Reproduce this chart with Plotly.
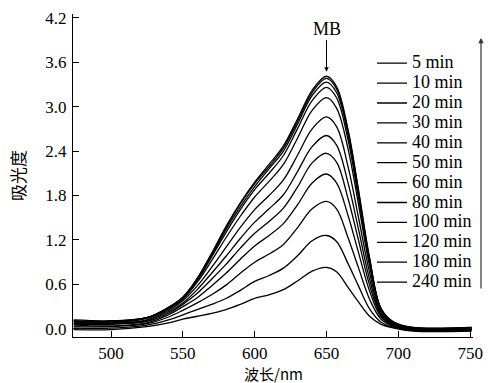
import plotly.graph_objects as go

WAVELENGTH = [474, 500, 525, 540, 550, 560, 570, 580, 590, 600, 610, 620, 630, 640, 650, 657, 665, 672, 680, 688, 697, 710, 751]

ABS_5 = [0.12, 0.11, 0.15, 0.29, 0.43, 0.68, 1.02, 1.38, 1.70, 1.98, 2.22, 2.47, 2.84, 3.22, 3.41, 3.27, 2.69, 1.91, 0.96, 0.27, 0.09, 0.02, 0.02]
ABS_10 = [0.11, 0.10, 0.15, 0.29, 0.42, 0.68, 1.01, 1.37, 1.69, 1.96, 2.19, 2.44, 2.81, 3.19, 3.38, 3.24, 2.67, 1.89, 0.94, 0.27, 0.08, 0.02, 0.02]
ABS_20 = [0.10, 0.10, 0.15, 0.28, 0.42, 0.67, 0.99, 1.34, 1.65, 1.92, 2.16, 2.40, 2.77, 3.15, 3.33, 3.19, 2.62, 1.85, 0.93, 0.27, 0.08, 0.01, 0.01]
ABS_30 = [0.10, 0.09, 0.15, 0.28, 0.41, 0.65, 0.97, 1.30, 1.61, 1.88, 2.10, 2.34, 2.71, 3.08, 3.26, 3.12, 2.55, 1.80, 0.90, 0.26, 0.08, 0.01, 0.01]
ABS_40 = [0.09, 0.08, 0.14, 0.27, 0.40, 0.63, 0.92, 1.23, 1.52, 1.78, 1.99, 2.22, 2.58, 2.95, 3.12, 2.98, 2.43, 1.71, 0.85, 0.25, 0.07, 0.01, 0.01]
ABS_50 = [0.08, 0.07, 0.12, 0.25, 0.38, 0.58, 0.83, 1.10, 1.37, 1.61, 1.80, 2.01, 2.35, 2.70, 2.86, 2.73, 2.19, 1.53, 0.76, 0.22, 0.06, 0.00, 0.00]
ABS_60 = [0.07, 0.07, 0.11, 0.23, 0.35, 0.53, 0.75, 0.98, 1.22, 1.44, 1.62, 1.81, 2.13, 2.46, 2.61, 2.48, 1.97, 1.37, 0.67, 0.20, 0.06, 0.00, 0.00]
ABS_80 = [0.06, 0.06, 0.10, 0.21, 0.33, 0.48, 0.67, 0.87, 1.09, 1.29, 1.45, 1.63, 1.92, 2.24, 2.37, 2.25, 1.76, 1.22, 0.59, 0.18, 0.05, -0.01, -0.01]
ABS_100 = [0.05, 0.04, 0.08, 0.19, 0.30, 0.42, 0.58, 0.75, 0.94, 1.12, 1.26, 1.42, 1.68, 1.97, 2.09, 1.97, 1.53, 1.05, 0.51, 0.16, 0.04, -0.01, -0.01]
ABS_120 = [0.03, 0.03, 0.07, 0.16, 0.25, 0.35, 0.46, 0.59, 0.75, 0.90, 1.01, 1.14, 1.37, 1.62, 1.72, 1.62, 1.23, 0.84, 0.40, 0.13, 0.03, -0.02, -0.02]
ABS_180 = [0.01, 0.01, 0.05, 0.12, 0.19, 0.26, 0.33, 0.41, 0.52, 0.64, 0.72, 0.82, 0.99, 1.19, 1.26, 1.18, 0.88, 0.59, 0.27, 0.09, 0.02, -0.02, -0.02]
ABS_240 = [-0.01, -0.01, 0.03, 0.08, 0.13, 0.17, 0.21, 0.26, 0.33, 0.41, 0.46, 0.53, 0.65, 0.78, 0.83, 0.77, 0.56, 0.37, 0.17, 0.06, 0.01, -0.03, -0.03]

SERIES_NAMES = ["5 min", "10 min", "20 min", "30 min", "40 min", "50 min",
                "60 min", "80 min", "100 min", "120 min", "180 min", "240 min"]
SERIES = [ABS_5, ABS_10, ABS_20, ABS_30, ABS_40, ABS_50,
          ABS_60, ABS_80, ABS_100, ABS_120, ABS_180, ABS_240]

X_TICKS = [500, 550, 600, 650, 700, 750]
Y_TICKS = [0.0, 0.6, 1.2, 1.8, 2.4, 3.0, 3.6, 4.2]

SERIF = "Liberation Serif"
CJK = "Noto Sans CJK SC"

fig = go.Figure()
for name, vals in zip(SERIES_NAMES, SERIES):
    fig.add_trace(go.Scatter(
        x=WAVELENGTH, y=vals, mode="lines", name=f'<span style="font-size:18px">{name}</span>',
        line=dict(color="black", width=1.3, shape="spline", smoothing=1.0),
    ))

fig.add_annotation(x=650, y=4.05, xref="x", yref="y", text="MB", showarrow=False,
                   font=dict(family=SERIF, size=18, color="black"))
fig.add_annotation(x=650, y=3.47, ax=650, ay=3.92, xref="x", yref="y", axref="x", ayref="y",
                   text="", showarrow=True, arrowhead=2, arrowsize=0.9, arrowwidth=1, arrowcolor="black")
fig.add_annotation(x=1.02, y=0.926, ax=0, ay=252, xref="paper", yref="paper",
                   axref="pixel", ayref="pixel", text="", showarrow=True, arrowhead=2,
                   arrowsize=0.9, arrowwidth=1.2, arrowcolor="#333333")
# x-axis title placed as a text annotation below the tick labels
fig.add_annotation(x=0.5, y=-0.114, xref="paper", yref="paper", text="波长/nm",
                   showarrow=False, xanchor="center", yanchor="middle",
                   font=dict(family=CJK, size=15, color="black"))

fig.update_layout(
    width=488, height=383,
    margin=dict(l=73, r=15, t=14, b=46, autoexpand=False),
    paper_bgcolor="white", plot_bgcolor="white",
    font=dict(family=SERIF, size=17, color="black"),
    showlegend=True,
    legend=dict(x=0.7475, y=0.894, xanchor="left", yanchor="top",
                bgcolor="rgba(0,0,0,0)", font=dict(family=SERIF, size=13, color="black"),
                itemwidth=30, tracegroupgap=0),
    xaxis=dict(range=[473.5, 752], tickvals=X_TICKS, ticks="inside", ticklen=6,
               tickcolor="black", showline=True, linecolor="black", linewidth=1.3,
               showgrid=False, zeroline=False, automargin=False,
               tickfont=dict(family=SERIF, size=17, color="black")),
    yaxis=dict(range=[-0.11, 4.25], tickvals=Y_TICKS, tickformat=".1f", ticks="inside",
               ticklen=6, tickcolor="black", showline=True, linecolor="black", linewidth=1.3,
               showgrid=False, zeroline=False, ticklabelstandoff=2, automargin=False,
               tickfont=dict(family=SERIF, size=17, color="black"),
               title=dict(text="吸光度", font=dict(family=CJK, size=17, color="black"), standoff=15)),
)

fig.write_html("out.html")
